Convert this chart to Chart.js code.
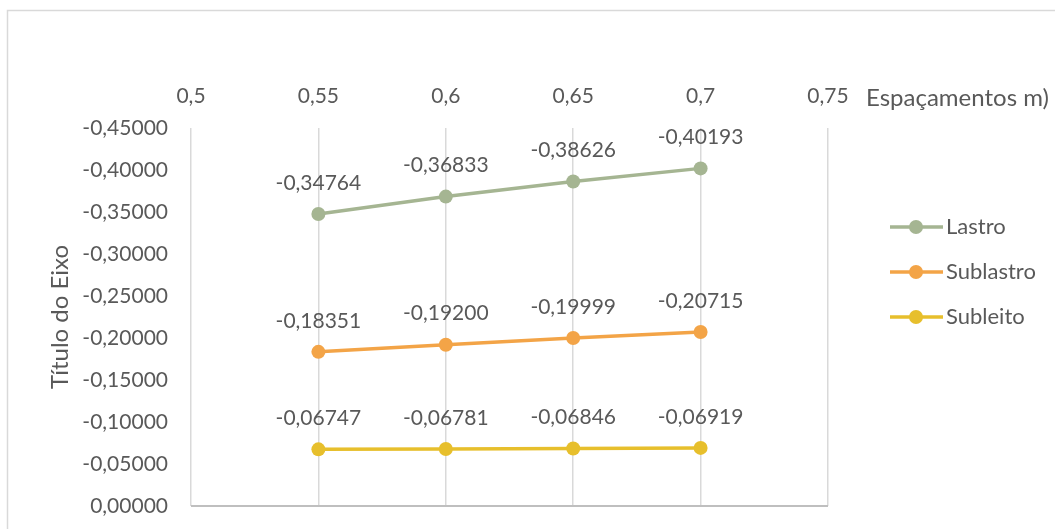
<!DOCTYPE html>
<html>
<head>
<meta charset="utf-8">
<script src="https://cdn.jsdelivr.net/npm/chart.js@4/dist/chart.umd.min.js"></script>
<style>
html, body { margin: 0; padding: 0; background: #fff; }
#wrap { width: 1055px; height: 529px; position: relative; }
</style>
</head>
<body>
<div id="wrap"><canvas id="grafico"></canvas></div>
<script>
// dados
var espacamentos = [0.55, 0.6, 0.65, 0.7];
var lastro = [-0.34764, -0.36833, -0.38626, -0.40193];
var sublastro = [-0.18351, -0.19200, -0.19999, -0.20715];
var subleito = [-0.06747, -0.06781, -0.06846, -0.06919];
var nomes = ["Lastro", "Sublastro", "Subleito"];
var cores = ["#a5b592", "#f3a447", "#e7bf2c"];
var xTicks = [0.5, 0.55, 0.6, 0.65, 0.7, 0.75];
var yTicks = [0, -0.05, -0.1, -0.15, -0.2, -0.25, -0.3, -0.35, -0.4, -0.45];

var FONTE = "Lato, 'Open Sans', sans-serif";
var COR_TEXTO = "#595959";

function virgula(v, casas) {
	var s = (casas == null) ? String(Math.round(v * 100) / 100) : v.toFixed(casas);
	if (s == "-0.00000") s = "0.00000";
	return s.replace(".", ",");
}

function serie(i, valores) {
	return {
		label: nomes[i],
		data: espacamentos.map(function(x, k){ return {x: x, y: valores[k]}; }),
		borderColor: cores[i],
		backgroundColor: cores[i],
		borderWidth: 3.5,
		pointRadius: 7,
		pointHoverRadius: 7,
		pointBorderWidth: 0,
		tension: 0
	};
}

var extras = {
	id: "extras",
	beforeDraw: function(chart) {
		var ctx = chart.ctx;
		ctx.save();
		ctx.strokeStyle = "#d9d9d9";
		ctx.lineWidth = 1.5;
		ctx.strokeRect(7.5, 10.5, 1100, 600);
		ctx.restore();
	},
	afterDraw: function(chart) {
		var ctx = chart.ctx;
		var a = chart.chartArea;
		ctx.save();
		// linha do eixo horizontal (y = 0)
		ctx.strokeStyle = "#bfbfbf";
		ctx.lineWidth = 2;
		ctx.beginPath();
		ctx.moveTo(a.left, chart.scales.y.getPixelForValue(0));
		ctx.lineTo(a.right, chart.scales.y.getPixelForValue(0));
		ctx.stroke();

		ctx.fillStyle = COR_TEXTO;
		ctx.textBaseline = "middle";

		// rotulos de dados
		ctx.font = "21px " + FONTE;
		ctx.textAlign = "center";
		chart.data.datasets.forEach(function(ds, i){
			chart.getDatasetMeta(i).data.forEach(function(p, k){
				ctx.fillText(virgula(ds.data[k].y, 5), p.x, p.y - 31);
			});
		});

		// titulo do eixo x
		ctx.font = "24px " + FONTE;
		ctx.textAlign = "left";
		ctx.fillText("Espaçamentos m)", chart.scales.x.getPixelForValue(0.75) + 38, 98);

		// titulo do eixo y
		ctx.save();
		ctx.translate(60, (a.top + a.bottom) / 2);
		ctx.rotate(-Math.PI / 2);
		ctx.textAlign = "center";
		ctx.fillText("Título do Eixo", 0, 0);
		ctx.restore();

		// legenda
		ctx.font = "22px " + FONTE;
		for (var i = 0; i < nomes.length; i++) {
			var ly = 227 + i * 45;
			ctx.strokeStyle = cores[i];
			ctx.lineWidth = 3.5;
			ctx.beginPath();
			ctx.moveTo(890, ly);
			ctx.lineTo(943, ly);
			ctx.stroke();
			ctx.fillStyle = cores[i];
			ctx.beginPath();
			ctx.arc(916, ly, 7, 0, Math.PI * 2);
			ctx.fill();
			ctx.fillStyle = COR_TEXTO;
			ctx.textAlign = "left";
			ctx.fillText(nomes[i], 946, ly);
		}
		ctx.restore();
	}
};

new Chart(document.getElementById("grafico"), {
	type: "line",
	data: {
		datasets: [serie(0, lastro), serie(1, sublastro), serie(2, subleito)]
	},
	options: {
		responsive: true,
		maintainAspectRatio: false,
		animation: false,
		layout: { padding: { left: 0, top: 0, right: 227, bottom: 23 } },
		plugins: {
			legend: { display: false },
			tooltip: { enabled: false }
		},
		scales: {
			x: {
				type: "linear",
				position: "top",
				min: 0.5,
				max: 0.75,
				afterBuildTicks: function(s){ s.ticks = xTicks.map(function(v){ return {value: v}; }); },
				afterFit: function(s){ s.height = 128; s.paddingLeft = 0; s.paddingRight = 0; },
				grid: { color: "#d9d9d9", lineWidth: 1.5, drawTicks: false },
				border: { display: false },
				ticks: {
					color: COR_TEXTO,
					font: { family: FONTE, size: 21 },
					padding: 19,
					maxRotation: 0,
					callback: function(v){ return virgula(v); }
				}
			},
			y: {
				type: "linear",
				reverse: true,
				min: -0.45,
				max: 0,
				afterBuildTicks: function(s){ s.ticks = yTicks.map(function(v){ return {value: v}; }); },
				afterFit: function(s){ s.width = 191; s.paddingTop = 0; s.paddingBottom = 0; },
				grid: { display: false, drawTicks: false },
				border: { display: false },
				ticks: {
					color: COR_TEXTO,
					font: { family: FONTE, size: 21 },
					padding: 23,
					callback: function(v){ return virgula(v, 5); }
				}
			}
		}
	},
	plugins: [extras]
});
</script>
</body>
</html>
